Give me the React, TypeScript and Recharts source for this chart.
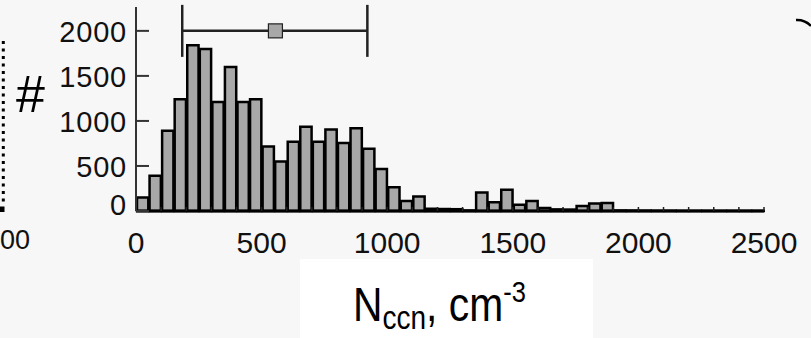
import React from "react";
import { ComposedChart, Bar, Scatter, ErrorBar, XAxis, YAxis } from "recharts";

// histogram bins (centre of each 50 cm-3 wide bin) and counts
const binMid = [
  25, 75, 125, 175, 225, 275, 325, 375, 425, 475,
  525, 575, 625, 675, 725, 775, 825, 875, 925, 975,
  1025, 1075, 1125, 1175, 1225, 1275, 1325, 1375, 1425, 1475,
  1525, 1575, 1625, 1675, 1725, 1775, 1825, 1875, 1925, 1975,
  2025, 2075, 2125, 2175, 2225, 2275, 2325, 2375, 2425, 2475,
];
const counts = [
  150, 390, 890, 1240, 1840, 1800, 1210, 1600, 1210, 1240,
  715, 550, 770, 935, 770, 905, 755, 920, 690, 465,
  265, 110, 160, 25, 22, 20, 6, 205, 98, 237,
  70, 110, 32, 18, 16, 56, 82, 88, 6, 5,
  4, 3, 3, 2, 2, 2, 2, 2, 2, 2,
];
const xTicks = [
  0, 100, 200, 300, 400, 500, 600, 700, 800, 900, 1000, 1100, 1200,
  1300, 1400, 1500, 1600, 1700, 1800, 1900, 2000, 2100, 2200, 2300, 2400, 2500,
];
const yTicks = [0, 500, 1000, 1500, 2000];

// median with range marker
const rangeMid = 555;
const rangeLow = 184;
const rangeHigh = 921;
const rangeLevel = 2000;

const histData = binMid.map((m, i) => ({ mid: m, count: counts[i] }));
const rangeData = [
  { x: rangeMid, y: rangeLevel, err: [rangeMid - rangeLow, rangeHigh - rangeMid] },
];

const FONT = "'Liberation Sans', Arial, Helvetica, sans-serif";

const YTick = (props: any) => {
  const { x, y, payload } = props;
  const lift = payload.value === 0 ? -7 : 0;
  return (
    <text x={x} y={y + 11 + lift} textAnchor="end" fontSize={29} letterSpacing={0.8} fontFamily={FONT} fill="#111">
      {payload.value}
    </text>
  );
};

const XTick = (props: any) => {
  const { x, y, payload } = props;
  if (payload.value % 500 !== 0) return <g />;
  return (
    <text x={x} y={y + 42} textAnchor="middle" fontSize={30} fontFamily={FONT} fill="#111">
      {payload.value}
    </text>
  );
};

const RangeMarker = (props: any) => {
  const { cx, cy } = props;
  return <rect x={cx - 7} y={cy - 7} width={14} height={14} fill="#a8a8a8" stroke="#222" strokeWidth={1.2} />;
};

export default function App() {
  return (
    <div
      style={{
        position: "absolute",
        left: 0,
        top: 0,
        width: 811,
        height: 338,
        background: "#f7f7f7",
        overflow: "hidden",
      }}
    >
      <ComposedChart
        width={811}
        height={338}
        data={histData}
        margin={{ top: 7, right: 47, left: 6, bottom: 77 }}
        barCategoryGap={0}
        barGap={0}
      >
        <XAxis
          dataKey="mid"
          type="number"
          domain={[0, 2500]}
          ticks={xTicks}
          interval={0}
          tickSize={-4}
          tickMargin={4}
          height={50}
          tick={<XTick />}
          axisLine={{ stroke: "#000", strokeWidth: 3 }}
          tickLine={{ stroke: "#222", strokeWidth: 1.5 }}
        />
        <XAxis xAxisId="range" dataKey="x" type="number" domain={[0, 2500]} hide />
        <YAxis
          type="number"
          domain={[0, 2265]}
          ticks={yTicks}
          interval={0}
          width={130}
          tickSize={-13}
          tickMargin={22}
          tick={<YTick />}
          axisLine={{ stroke: "#333", strokeWidth: 2 }}
          tickLine={{ stroke: "#333", strokeWidth: 2 }}
        />
        <Bar
          dataKey="count"
          fill="#a8a8a8"
          stroke="#000"
          strokeWidth={2.5}
          barSize={12.56}
          isAnimationActive={false}
        />
        <Scatter
          data={rangeData}
          xAxisId="range"
          dataKey="y"
          shape={<RangeMarker />}
          isAnimationActive={false}
        >
          <ErrorBar
            dataKey="err"
            direction="x"
            width={26}
            stroke="#222"
            strokeWidth={2.5}
            isAnimationActive={false}
          />
        </Scatter>
      </ComposedChart>

      <svg
        width={811}
        height={338}
        style={{ position: "absolute", left: 0, top: 0, pointerEvents: "none" }}
      >
        {/* pieces of the neighbouring panels */}
        <line x1={3.3} y1={41} x2={3.3} y2={206} stroke="#000" strokeWidth={3} strokeDasharray="3 4.5" />
        <rect x={0} y={206.5} width={4.5} height={5.5} fill="#000" />
        <text x={0} y={248.5} fontSize={27} fontFamily={FONT} fill="#111">
          00
        </text>
        <path d="M796,20 Q805,19.5 811,26" fill="none" stroke="#000" strokeWidth={2.5} />

        <text x={16} y={112} fontSize={52} fontFamily={FONT} fill="#000">
          #
        </text>

        <rect x={300} y={259} width={293} height={79} fill="#fff" />
        <g transform="translate(353,321) scale(0.85,1)">
          <text x={0} y={0} fontSize={48} fontFamily={FONT} fill="#000">
            N
            <tspan fontSize={33} dy={8}>ccn</tspan>
            <tspan fontSize={48} dy={-8}>, cm</tspan>
            <tspan fontSize={30} dy={-19}>-3</tspan>
          </text>
        </g>
      </svg>
    </div>
  );
}
